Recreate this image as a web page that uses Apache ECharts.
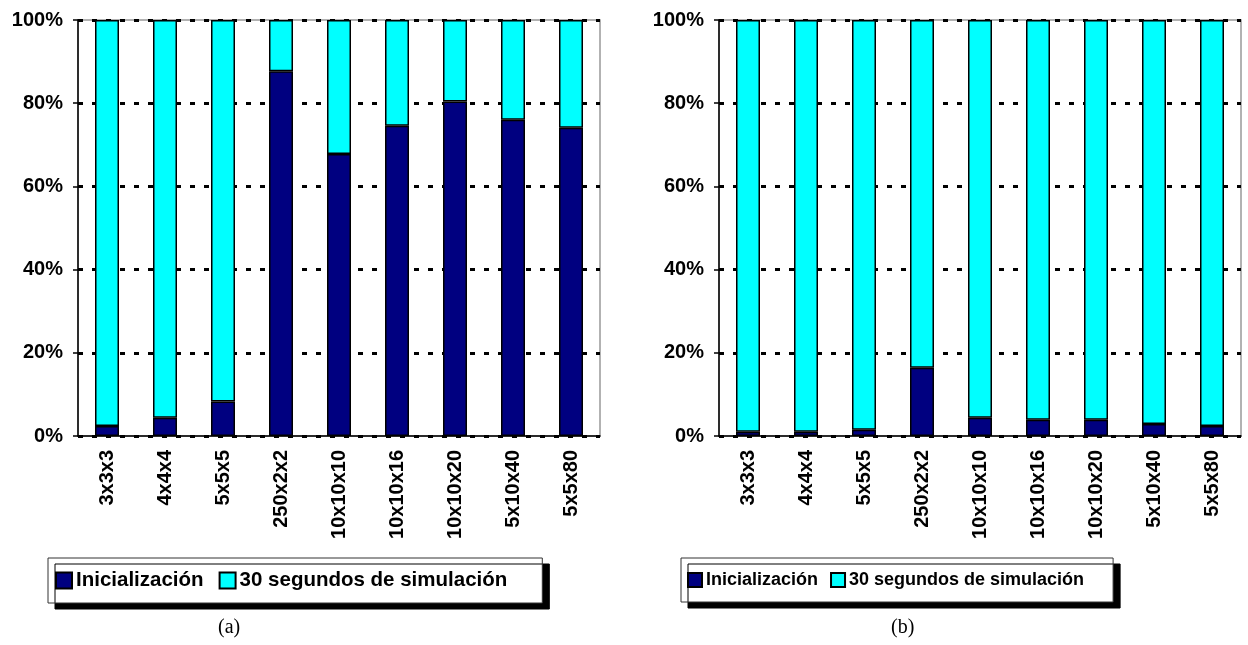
<!DOCTYPE html>
<html>
<head>
<meta charset="utf-8">
<script src="https://cdn.jsdelivr.net/npm/echarts@6/dist/echarts.min.js"></script>
<style>
  html, body { margin: 0; padding: 0; background: #fff; }
  #main { width: 1248px; height: 645px; }
</style>
</head>
<body>
<div id="main"></div>
<script>
// categorias (tamaño de la malla)
var categorias = ['3x3x3', '4x4x4', '5x5x5', '250x2x2', '10x10x10', '10x10x16', '10x10x20', '5x10x40', '5x5x80'];
var yTicks = [0, 20, 40, 60, 80, 100];

// (a) porcentajes
var initA = [2.4, 4.4, 8.3, 87.7, 67.8, 74.6, 80.4, 76.0, 74.1];
var simA = [97.6, 95.6, 91.7, 12.3, 32.2, 25.4, 19.6, 24.0, 25.9];

// (b) porcentajes
var initB = [1.0, 1.0, 1.5, 16.4, 4.4, 3.9, 3.9, 2.9, 2.4];
var simB = [99.0, 99.0, 98.5, 83.6, 95.6, 96.1, 96.1, 97.1, 97.6];

var nomInit = 'Inicialización';
var nomSim = '30 segundos de simulación';

(function () {
  var myChart = echarts.init(document.getElementById('main'));
  var fuente = '"Liberation Sans", Arial, sans-serif';

  function ejeX(idx) {
    return {
      type: 'category',
      gridIndex: idx,
      data: categorias,
      axisLine: { lineStyle: { color: '#000', width: 1.5 } },
      axisTick: { length: 5, lineStyle: { color: '#000', width: 1.5 } },
      axisLabel: {
        rotate: 90,
        margin: 14,
        color: '#000',
        fontSize: 20,
        fontWeight: 'bold',
        fontFamily: fuente
      }
    };
  }

  function ejeY(idx) {
    return {
      type: 'value',
      gridIndex: idx,
      min: yTicks[0],
      max: yTicks[yTicks.length - 1],
      interval: 20,
      axisLine: { show: true, lineStyle: { color: '#000', width: 1.5 } },
      axisTick: { show: true, length: 5, lineStyle: { color: '#000', width: 1.5 } },
      axisLabel: {
        margin: 15,
        color: '#000',
        fontSize: 20,
        fontWeight: 'bold',
        fontFamily: fuente,
        formatter: '{value}%'
      },
      splitLine: { lineStyle: { color: '#000', width: 3, type: [5, 9] } }
    };
  }

  function barra(nombre, idx, datos, color) {
    return {
      name: nombre,
      type: 'bar',
      stack: 'total' + idx,
      xAxisIndex: idx,
      yAxisIndex: idx,
      barWidth: 24,
      data: datos,
      itemStyle: { color: color, borderColor: '#000', borderWidth: 1.5 }
    };
  }

  // caja de leyenda con sombra negra
  function leyenda(x, y, tam, icono, gap, pad) {
    return {
      left: x,
      top: y,
      orient: 'horizontal',
      data: [nomInit, nomSim],
      icon: 'rect',
      itemWidth: icono,
      itemHeight: icono,
      itemGap: gap,
      padding: pad,
      backgroundColor: '#fff',
      borderColor: '#333',
      borderWidth: 1,
      shadowColor: '#000',
      shadowBlur: 0,
      shadowOffsetX: 7,
      shadowOffsetY: 6,
      selectedMode: false,
      textStyle: {
        color: '#000',
        fontSize: tam,
        fontWeight: 'bold',
        fontFamily: fuente,
        padding: [0, 0, 0, -1]
      }
    };
  }

  var option = {
    animation: false,
    grid: [
      { left: 78, top: 20, width: 522, height: 416, show: true, borderColor: '#999', borderWidth: 1.5 },
      { left: 719, top: 20, width: 522, height: 416, show: true, borderColor: '#999', borderWidth: 1.5 }
    ],
    xAxis: [ejeX(0), ejeX(1)],
    yAxis: [ejeY(0), ejeY(1)],
    legend: [
      leyenda(48, 558, 20.5, 16, 15, [12, 35, 12, 7]),
      leyenda(681, 558, 18, 14, 12, [13, 29, 13, 6])
    ],
    series: [
      barra(nomInit, 0, initA, '#000080'),
      barra(nomSim, 0, simA, '#00ffff'),
      barra(nomInit, 1, initB, '#000080'),
      barra(nomSim, 1, simB, '#00ffff')
    ],
    graphic: [
      { type: 'text', left: 218, top: 618, style: { text: '(a)', font: '20px "Liberation Serif", "Times New Roman", serif', fill: '#000' } },
      { type: 'text', left: 891, top: 618, style: { text: '(b)', font: '20px "Liberation Serif", "Times New Roman", serif', fill: '#000' } }
    ]
  };

  myChart.setOption(option);
  window.addEventListener('resize', function () {
    myChart.resize();
  });
})();
</script>
</body>
</html>
